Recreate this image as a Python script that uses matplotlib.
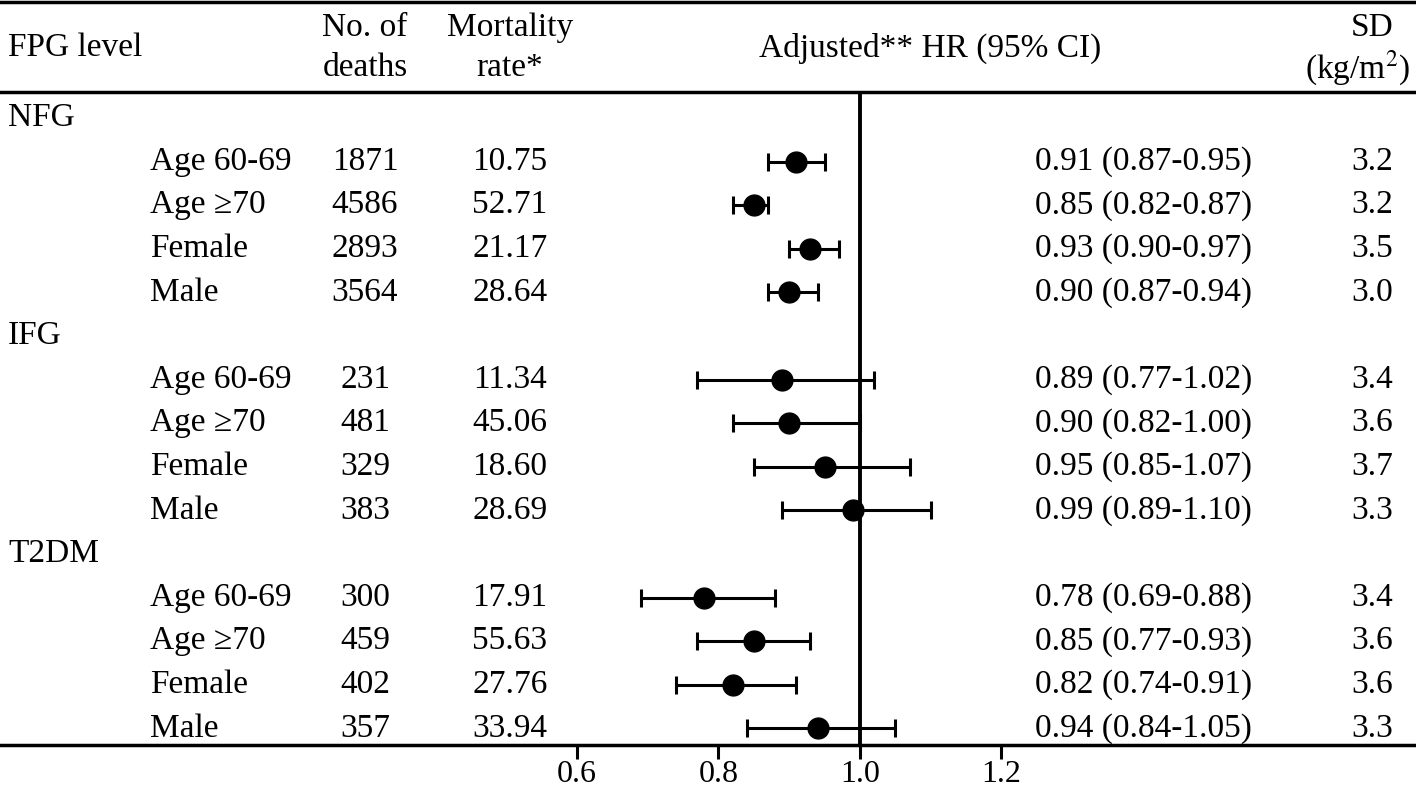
import matplotlib.pyplot as plt
import numpy as np

plt.rcParams['font.family'] = ['Liberation Serif', 'DejaVu Serif']
plt.rcParams['mathtext.fontset'] = 'stix'

groups = ["NFG", "IFG", "T2DM"]
subgroups = ["Age 60-69", "Age \u226570", "Female", "Male"]
deaths = [1871, 4586, 2893, 3564, 231, 481, 329, 383, 300, 459, 402, 357]
rates = [10.75, 52.71, 21.17, 28.64, 11.34, 45.06, 18.60, 28.69, 17.91, 55.63, 27.76, 33.94]
hr = [0.91, 0.85, 0.93, 0.90, 0.89, 0.90, 0.95, 0.99, 0.78, 0.85, 0.82, 0.94]
lo = [0.87, 0.82, 0.90, 0.87, 0.77, 0.82, 0.85, 0.89, 0.69, 0.77, 0.74, 0.84]
hi = [0.95, 0.87, 0.97, 0.94, 1.02, 1.00, 1.07, 1.10, 0.88, 0.93, 0.91, 1.05]
sd = [3.2, 3.2, 3.5, 3.0, 3.4, 3.6, 3.7, 3.3, 3.4, 3.6, 3.6, 3.3]
xticks = [0.6, 0.8, 1.0, 1.2]

FS = 24
W, H = 1416, 793

fig = plt.figure(figsize=(W / 100, H / 100), dpi=100)
base_px = 745
ax = fig.add_axes([0, (H - base_px) / H, 1, base_px / H])

# row layout: row i sits at pixel 118 + i*43.6
row0, step = 118, 43.6
def prow(px):
    return (px - row0) / step

ax.set_ylim(prow(base_px), prow(0))
unit = 707.5
ax.set_xlim(1.0 - 860 / unit, 1.0 + (W - 860) / unit)

tr = ax.get_yaxis_transform()

# header
ax.text(8 / W, prow(48), "FPG level", transform=tr, fontsize=FS, va="center", ha="left")
ax.text(365 / W, prow(28), "No. of", transform=tr, fontsize=FS, va="center", ha="center")
ax.text(365 / W, prow(68), "deaths", transform=tr, fontsize=FS, va="center", ha="center")
ax.text(510 / W, prow(28), "Mortality", transform=tr, fontsize=FS, va="center", ha="center")
ax.text(510 / W, prow(68), "rate*", transform=tr, fontsize=FS, va="center", ha="center")
ax.text(930 / W, prow(48), "Adjusted** HR (95% CI)", transform=tr, fontsize=FS, va="center", ha="center")
ax.text(1372 / W, prow(28), "SD", transform=tr, fontsize=FS, va="center", ha="center")
ax.text(1410 / W, prow(68), "(kg/m$^{2}$)", transform=tr, fontsize=FS, va="center", ha="right")

ax.axhline(prow(2), color="black", lw=2.5, clip_on=False)
ax.axhline(prow(92), color="black", lw=2.5, clip_on=False)

ys = []
k = 0
for g, name in enumerate(groups):
    gy = g * 5
    ax.text(8 / W, gy, name, transform=tr, fontsize=FS, va="center", ha="left")
    for j, sub in enumerate(subgroups):
        y = gy + 1 + j
        ys.append(y)
        ax.text(150 / W, y, sub, transform=tr, fontsize=FS, va="center", ha="left")
        ax.text(365 / W, y, str(deaths[k]), transform=tr, fontsize=FS, va="center", ha="center")
        ax.text(510 / W, y, f"{rates[k]:.2f}", transform=tr, fontsize=FS, va="center", ha="center")
        ax.text(1035 / W, y, f"{hr[k]:.2f} ({lo[k]:.2f}-{hi[k]:.2f})", transform=tr,
                fontsize=FS, va="center", ha="left")
        ax.text(1372 / W, y, f"{sd[k]:.1f}", transform=tr, fontsize=FS, va="center", ha="center")
        k += 1

hr_a = np.array(hr)
ax.vlines(1.0, prow(92), prow(base_px), color="black", lw=2.8)
ax.errorbar(hr_a, ys, xerr=[hr_a - np.array(lo), np.array(hi) - hr_a], fmt="o",
            color="black", ms=15, capsize=6.5, elinewidth=2.2, capthick=2.2, zorder=3)

for s in ["top", "left", "right"]:
    ax.spines[s].set_visible(False)
ax.spines["bottom"].set_linewidth(2.5)
ax.set_yticks([])
ax.set_xticks(xticks)
ax.set_xticklabels([f"{t:.1f}" for t in xticks])
ax.tick_params(axis="x", direction="out", length=10, width=2.2, labelsize=FS - 1, pad=1)

fig.savefig("out.png", dpi=100)
